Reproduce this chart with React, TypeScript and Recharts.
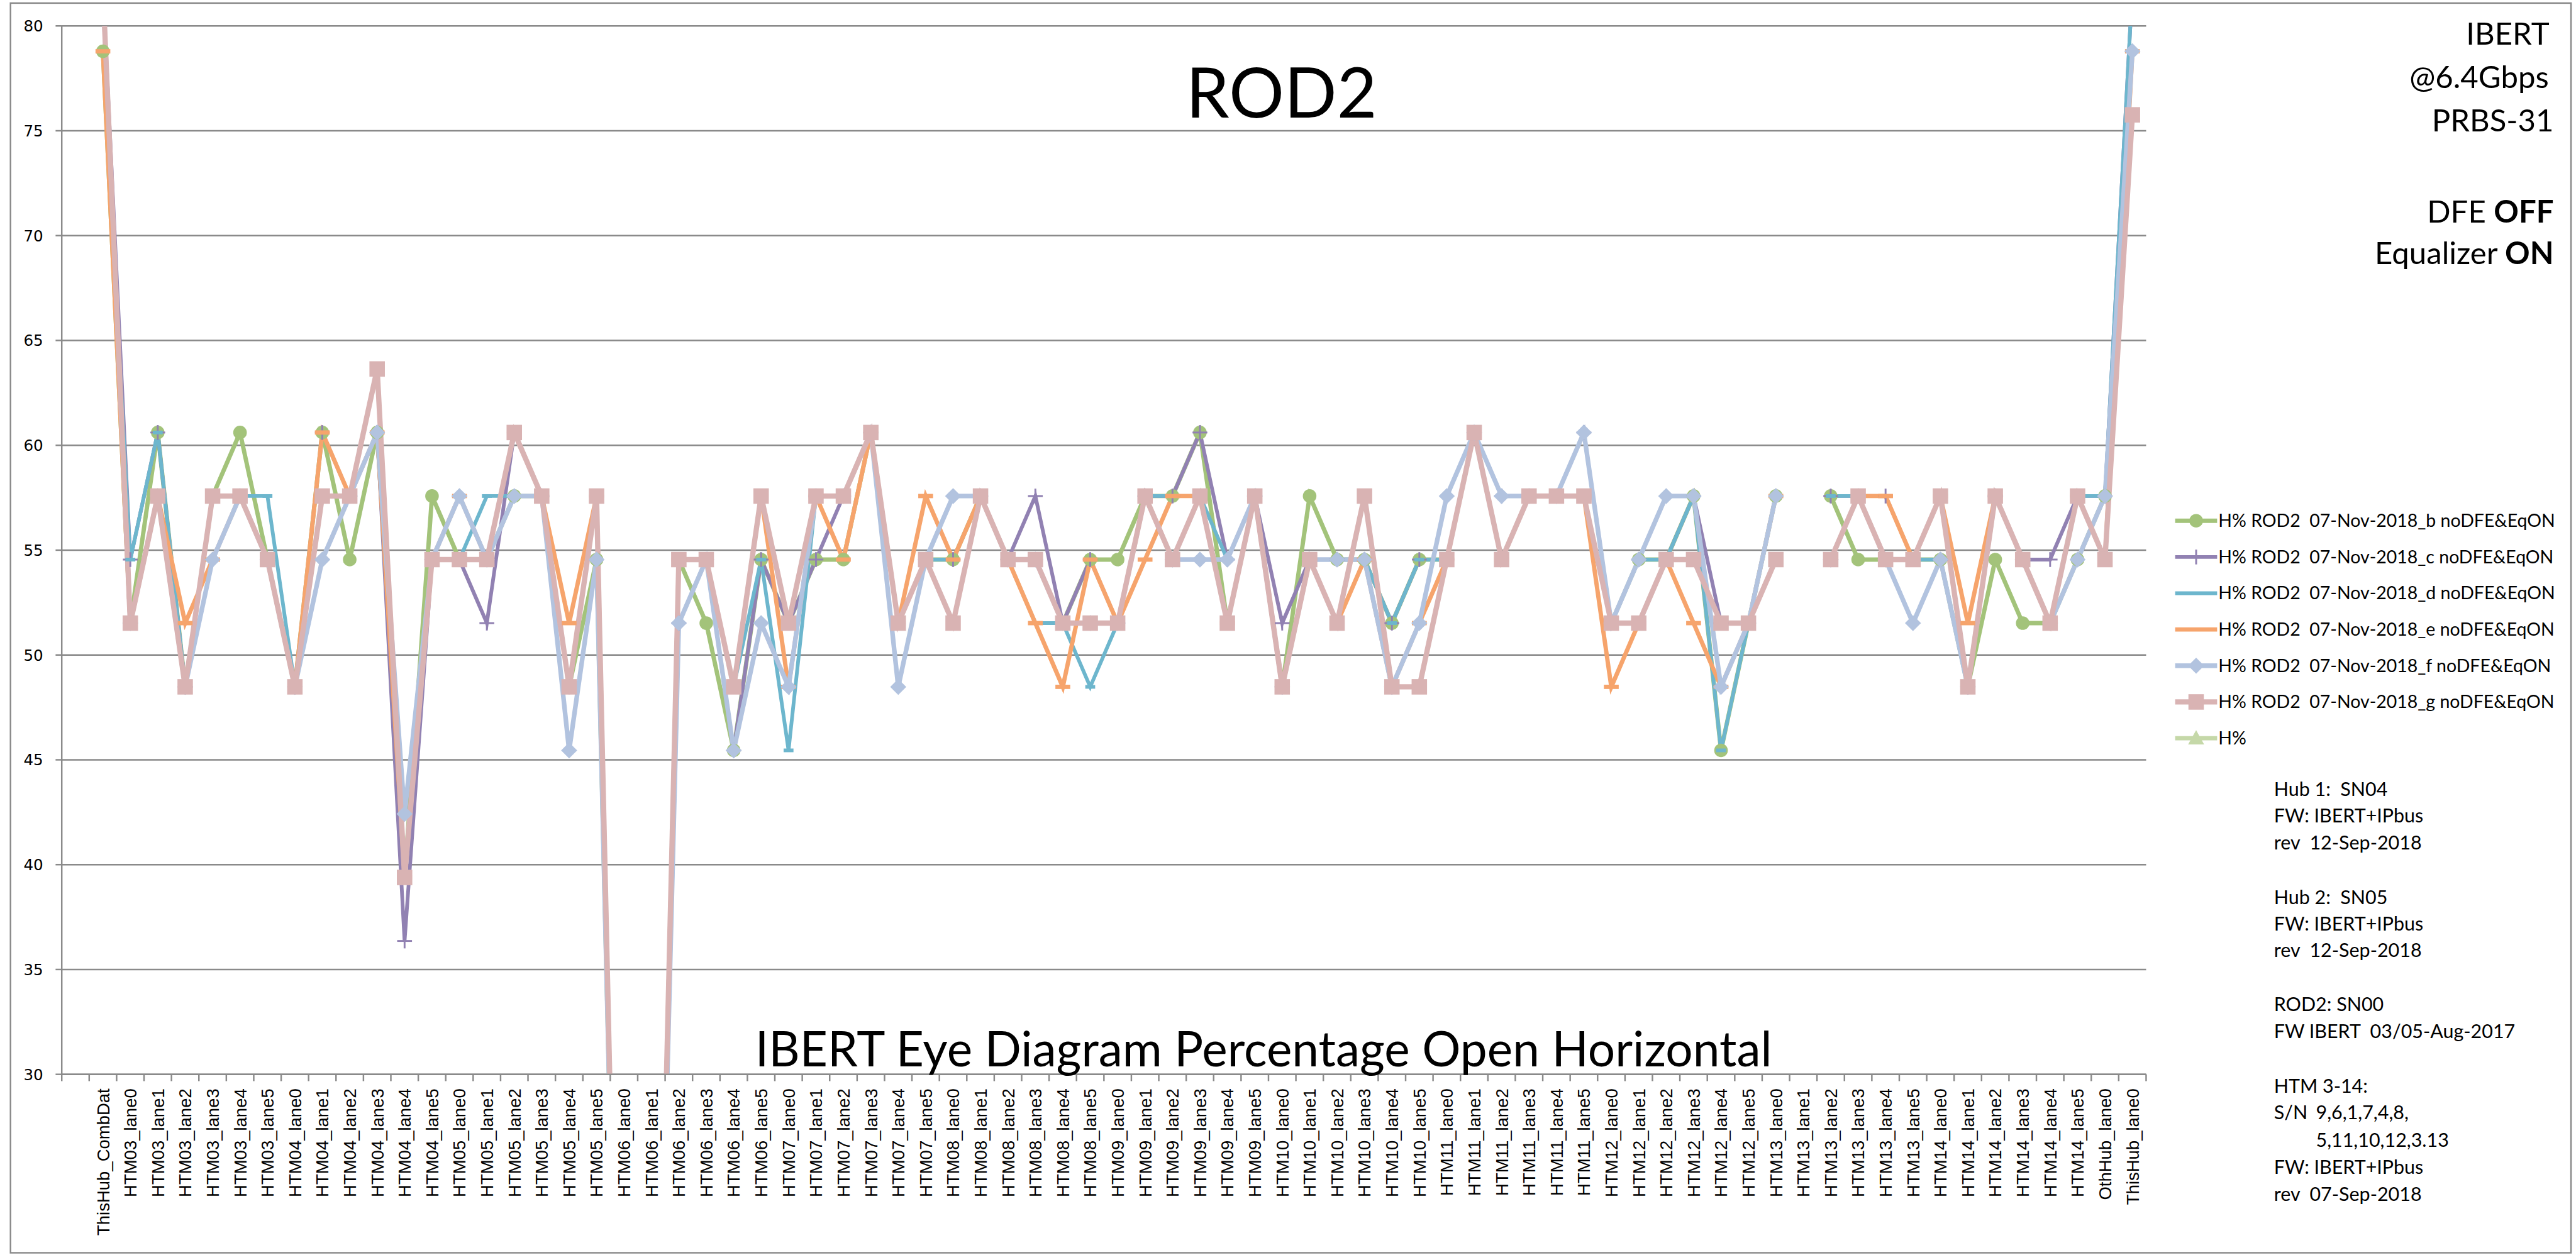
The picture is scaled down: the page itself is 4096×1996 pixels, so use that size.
import React from 'react';
import { LineChart, Line, XAxis, YAxis, CartesianGrid, Legend } from 'recharts';

const S = 0.982;
const W = 4096;
const H = 1996;

// plot area in reference pixels
const PL = 100, PR = 3475, PT = 42, PB = 1740;
const NSLOT = 76;
const GRID = '#8a8a8a';

const categories = [
  '', 'ThisHub_CombDat',
  'HTM03_lane0', 'HTM03_lane1', 'HTM03_lane2', 'HTM03_lane3', 'HTM03_lane4', 'HTM03_lane5',
  'HTM04_lane0', 'HTM04_lane1', 'HTM04_lane2', 'HTM04_lane3', 'HTM04_lane4', 'HTM04_lane5',
  'HTM05_lane0', 'HTM05_lane1', 'HTM05_lane2', 'HTM05_lane3', 'HTM05_lane4', 'HTM05_lane5',
  'HTM06_lane0', 'HTM06_lane1', 'HTM06_lane2', 'HTM06_lane3', 'HTM06_lane4', 'HTM06_lane5',
  'HTM07_lane0', 'HTM07_lane1', 'HTM07_lane2', 'HTM07_lane3', 'HTM07_lane4', 'HTM07_lane5',
  'HTM08_lane0', 'HTM08_lane1', 'HTM08_lane2', 'HTM08_lane3', 'HTM08_lane4', 'HTM08_lane5',
  'HTM09_lane0', 'HTM09_lane1', 'HTM09_lane2', 'HTM09_lane3', 'HTM09_lane4', 'HTM09_lane5',
  'HTM10_lane0', 'HTM10_lane1', 'HTM10_lane2', 'HTM10_lane3', 'HTM10_lane4', 'HTM10_lane5',
  'HTM11_lane0', 'HTM11_lane1', 'HTM11_lane2', 'HTM11_lane3', 'HTM11_lane4', 'HTM11_lane5',
  'HTM12_lane0', 'HTM12_lane1', 'HTM12_lane2', 'HTM12_lane3', 'HTM12_lane4', 'HTM12_lane5',
  'HTM13_lane0', 'HTM13_lane1', 'HTM13_lane2', 'HTM13_lane3', 'HTM13_lane4', 'HTM13_lane5',
  'HTM14_lane0', 'HTM14_lane1', 'HTM14_lane2', 'HTM14_lane3', 'HTM14_lane4', 'HTM14_lane5',
  'OthHub_lane0', 'ThisHub_lane0',
];

const yTicks = [30, 35, 40, 45, 50, 55, 60, 65, 70, 75, 80];

const seriesB = [null, 78.79,
  51.52, 60.61, 48.48, 57.58, 60.61, 54.55,
  48.48, 60.61, 54.55, 60.61, 39.39, 57.58,
  54.55, 54.55, 57.58, 57.58, 48.48, 54.55,
  0, 0, 54.55, 51.52, 45.45, 54.55,
  51.52, 54.55, 54.55, 60.61, 51.52, 54.55,
  54.55, 57.58, 54.55, 54.55, 51.52, 54.55,
  54.55, 57.58, 57.58, 60.61, 51.52, 57.58,
  48.48, 57.58, 54.55, 54.55, 51.52, 54.55,
  54.55, 60.61, 54.55, 57.58, 57.58, 57.58,
  51.52, 54.55, 54.55, 57.58, 45.45, 51.52,
  57.58, null, 57.58, 54.55, 54.55, 54.55,
  54.55, 48.48, 54.55, 51.52, 51.52, 54.55,
  57.58, 75.76];

const seriesC = [null, 81.82,
  54.55, 60.61, 48.48, 57.58, 57.58, 54.55,
  48.48, 60.61, 57.58, 60.61, 36.36, 54.55,
  54.55, 51.52, 60.61, 57.58, 48.48, 57.58,
  0, 0, 51.52, 54.55, 45.45, 54.55,
  51.52, 54.55, 57.58, 60.61, 51.52, 54.55,
  54.55, 57.58, 54.55, 57.58, 51.52, 54.55,
  51.52, 57.58, 57.58, 60.61, 54.55, 57.58,
  51.52, 54.55, 54.55, 54.55, 51.52, 54.55,
  54.55, 60.61, 57.58, 57.58, 57.58, 60.61,
  51.52, 54.55, 54.55, 57.58, 51.52, 51.52,
  57.58, null, 57.58, 57.58, 57.58, 54.55,
  54.55, 48.48, 57.58, 54.55, 54.55, 57.58,
  57.58, 81.82];

const seriesD = [null, 78.79,
  54.55, 60.61, 48.48, 57.58, 57.58, 57.58,
  48.48, 57.58, 57.58, 60.61, 42.42, 54.55,
  54.55, 57.58, 57.58, 57.58, 48.48, 57.58,
  0, 0, 54.55, 54.55, 48.48, 54.55,
  45.45, 57.58, 57.58, 60.61, 51.52, 54.55,
  54.55, 57.58, 54.55, 51.52, 51.52, 48.48,
  51.52, 57.58, 57.58, 57.58, 54.55, 57.58,
  48.48, 54.55, 54.55, 54.55, 51.52, 54.55,
  54.55, 60.61, 57.58, 57.58, 57.58, 57.58,
  51.52, 54.55, 54.55, 57.58, 45.45, 51.52,
  57.58, null, 57.58, 57.58, 54.55, 54.55,
  54.55, 48.48, 57.58, 54.55, 51.52, 57.58,
  57.58, 81.82];

const seriesE = [null, 78.79,
  51.52, 57.58, 51.52, 54.55, 57.58, 54.55,
  48.48, 60.61, 57.58, 60.61, 39.39, 54.55,
  57.58, 54.55, 60.61, 57.58, 51.52, 57.58,
  0, 0, 54.55, 54.55, 48.48, 57.58,
  48.48, 57.58, 54.55, 60.61, 51.52, 57.58,
  54.55, 57.58, 54.55, 51.52, 48.48, 54.55,
  51.52, 54.55, 57.58, 57.58, 51.52, 57.58,
  48.48, 54.55, 51.52, 54.55, 48.48, 51.52,
  54.55, 60.61, 54.55, 57.58, 57.58, 57.58,
  48.48, 51.52, 54.55, 51.52, 48.48, 51.52,
  57.58, null, 54.55, 57.58, 57.58, 54.55,
  57.58, 51.52, 57.58, 54.55, 51.52, 57.58,
  54.55, 78.79];

const seriesF = [null, 81.82,
  51.52, 57.58, 48.48, 54.55, 57.58, 54.55,
  48.48, 54.55, 57.58, 60.61, 42.42, 54.55,
  57.58, 54.55, 57.58, 57.58, 45.45, 54.55,
  0, 0, 51.52, 54.55, 45.45, 51.52,
  48.48, 57.58, 57.58, 60.61, 48.48, 54.55,
  57.58, 57.58, 54.55, 54.55, 51.52, 51.52,
  51.52, 57.58, 54.55, 54.55, 54.55, 57.58,
  48.48, 54.55, 54.55, 54.55, 48.48, 51.52,
  57.58, 60.61, 57.58, 57.58, 57.58, 60.61,
  51.52, 54.55, 57.58, 57.58, 48.48, 51.52,
  57.58, null, 54.55, 57.58, 54.55, 51.52,
  54.55, 48.48, 57.58, 54.55, 51.52, 54.55,
  57.58, 78.79];

const seriesG = [null, 81.82,
  51.52, 57.58, 48.48, 57.58, 57.58, 54.55,
  48.48, 57.58, 57.58, 63.64, 39.39, 54.55,
  54.55, 54.55, 60.61, 57.58, 48.48, 57.58,
  0, 0, 54.55, 54.55, 48.48, 57.58,
  51.52, 57.58, 57.58, 60.61, 51.52, 54.55,
  51.52, 57.58, 54.55, 54.55, 51.52, 51.52,
  51.52, 57.58, 54.55, 57.58, 51.52, 57.58,
  48.48, 54.55, 51.52, 57.58, 48.48, 48.48,
  54.55, 60.61, 54.55, 57.58, 57.58, 57.58,
  51.52, 51.52, 54.55, 54.55, 51.52, 51.52,
  54.55, null, 54.55, 57.58, 54.55, 54.55,
  57.58, 48.48, 57.58, 54.55, 51.52, 57.58,
  54.55, 75.76];

const seriesNames = [
  'H% ROD2  07-Nov-2018_b noDFE&EqON',
  'H% ROD2  07-Nov-2018_c noDFE&EqON',
  'H% ROD2  07-Nov-2018_d noDFE&EqON',
  'H% ROD2  07-Nov-2018_e noDFE&EqON',
  'H% ROD2  07-Nov-2018_f noDFE&EqON',
  'H% ROD2  07-Nov-2018_g noDFE&EqON',
  'H%',
];

type Marker = 'circle' | 'plus' | 'dash' | 'shortdash' | 'diamond' | 'square' | 'triangle';

const seriesCfg: { key: string; color: string; width: number; marker: Marker }[] = [
  { key: 'b', color: '#A3C37A', width: 7, marker: 'circle' },
  { key: 'c', color: '#9181B2', width: 6, marker: 'plus' },
  { key: 'd', color: '#6DB6CD', width: 6, marker: 'shortdash' },
  { key: 'e', color: '#F6A46C', width: 7, marker: 'dash' },
  { key: 'f', color: '#B2C3DF', width: 7.5, marker: 'diamond' },
  { key: 'g', color: '#D9B3B3', width: 8.5, marker: 'square' },
  { key: 'h', color: '#C5D8A8', width: 7, marker: 'triangle' },
];

const data = categories.map((name, i) => ({
  x: i + 0.5,
  name,
  b: seriesB[i],
  c: seriesC[i],
  d: seriesD[i],
  e: seriesE[i],
  f: seriesF[i],
  g: seriesG[i],
  h: null as number | null,
}));

const xTicks = categories.map((_, i) => i + 0.5);

function drawMarker(kind: Marker, cx: number, cy: number, color: string, k?: string) {
  const s = S;
  switch (kind) {
    case 'circle':
      return <circle key={k} cx={cx} cy={cy} r={11 * s} fill={color} />;
    case 'plus':
      return (
        <g key={k}>
          <line x1={cx - 12 * s} x2={cx + 12 * s} y1={cy} y2={cy} stroke={color} strokeWidth={3 * s} />
          <line x1={cx} x2={cx} y1={cy - 12 * s} y2={cy + 12 * s} stroke={color} strokeWidth={3 * s} />
        </g>
      );
    case 'dash':
      return <rect key={k} x={cx - 12 * s} y={cy - 3.5 * s} width={24 * s} height={7 * s} fill={color} />;
    case 'shortdash':
      return <rect key={k} x={cx - 8 * s} y={cy - 3 * s} width={16 * s} height={6 * s} fill={color} />;
    case 'diamond':
      return (
        <polygon key={k}
          points={`${cx},${cy - 13 * s} ${cx + 13 * s},${cy} ${cx},${cy + 13 * s} ${cx - 13 * s},${cy}`}
          fill={color} />
      );
    case 'square':
      return <rect key={k} x={cx - 12.5 * s} y={cy - 12.5 * s} width={25 * s} height={25 * s} fill={color} />;
    case 'triangle':
      return (
        <polygon key={k}
          points={`${cx},${cy - 13 * s} ${cx + 13 * s},${cy + 10 * s} ${cx - 13 * s},${cy + 10 * s}`}
          fill={color} />
      );
  }
  return null;
}

const makeDot = (kind: Marker, color: string) => (props: any) => {
  const { cx, cy, index, value } = props;
  const k = `dot-${kind}-${index}`;
  if (cx == null || cy == null || value == null || Number.isNaN(cy)) return <g key={k} />;
  return drawMarker(kind, cx, cy, color, k);
};

const slotW = ((PR - PL) * S) / NSLOT;

const XTick = (props: any) => {
  const { x, payload } = props;
  const i = Math.round(payload.value - 0.5);
  const label = categories[i] ?? '';
  const y0 = PB * S;
  const ty = 1763 * S;
  return (
    <g>
      <line x1={x - slotW / 2} x2={x - slotW / 2} y1={y0} y2={y0 + 11 * S} stroke={GRID} strokeWidth={2.5 * S} />
      {i === categories.length - 1 && (
        <line x1={x + slotW / 2} x2={x + slotW / 2} y1={y0} y2={y0 + 11 * S} stroke={GRID} strokeWidth={2.5 * S} />
      )}
      <text
        x={x}
        y={ty}
        transform={`rotate(-90, ${x}, ${ty})`}
        textAnchor="end"
        dy="0.36em"
        fontFamily="'Liberation Sans', Arial, sans-serif"
        fontSize={28 * S}
        fill="#000"
      >
        {label}
      </text>
    </g>
  );
};

const YTick = (props: any) => {
  const { y, payload } = props;
  return (
    <text x={70 * S} y={y} dy="0.36em" textAnchor="end" fontFamily="'DejaVu Sans', sans-serif" fontSize={25 * S} fill="#000">
      {payload.value}
    </text>
  );
};

const LEG_LEFT = 3500, LEG_TOP = 800;
const renderLegend = (props: any) => {
  const raw = props.payload || [];
  const order = (e: any) => {
    const idx = seriesCfg.findIndex((c) => c.key === e.dataKey);
    return idx < 0 ? 99 : idx;
  };
  const payload = [...raw].sort((a: any, b: any) => order(a) - order(b));
  return (
    <svg width={660 * S} height={440 * S} style={{ overflow: 'visible' }}>
      {payload.map((entry: any, i: number) => {
        const cfg = seriesCfg.find((c) => c.key === entry.dataKey) || seriesCfg[i];
        const cy = (843 - LEG_TOP + i * 58.7) * S;
        const x1 = (3522 - LEG_LEFT) * S, x2 = (3590 - LEG_LEFT) * S;
        const mx = (x1 + x2) / 2;
        return (
          <g key={`leg-${i}`}>
            <line x1={x1} x2={x2} y1={cy} y2={cy} stroke={cfg.color} strokeWidth={cfg.width * S} />
            {cfg.marker !== 'dash' && cfg.marker !== 'shortdash' && drawMarker(cfg.marker, mx, cy, cfg.color)}
            <text x={(3592 - LEG_LEFT) * S} y={cy} dy="0.35em" fontFamily="Lato, sans-serif" fontSize={29 * S}
              fill="#000" style={{ whiteSpace: 'pre' }}>
              {entry.value}
            </text>
          </g>
        );
      })}
    </svg>
  );
};

const hubLines: { t: string; x: number; y: number }[] = [
  { t: 'Hub 1:  SN04', x: 3682, y: 1289 },
  { t: 'FW: IBERT+IPbus', x: 3682, y: 1332 },
  { t: 'rev  12-Sep-2018', x: 3682, y: 1376 },
  { t: 'Hub 2:  SN05', x: 3682, y: 1464 },
  { t: 'FW: IBERT+IPbus', x: 3682, y: 1507 },
  { t: 'rev  12-Sep-2018', x: 3682, y: 1550 },
  { t: 'ROD2: SN00', x: 3682, y: 1637 },
  { t: 'FW IBERT  03/05-Aug-2017', x: 3682, y: 1681 },
  { t: 'HTM 3-14:', x: 3682, y: 1770 },
  { t: 'S/N', x: 3682, y: 1813 },
  { t: '9,6,1,7,4,8,', x: 3750, y: 1813 },
  { t: '5,11,10,12,3.13', x: 3750, y: 1857 },
  { t: 'FW: IBERT+IPbus', x: 3682, y: 1901 },
  { t: 'rev  07-Sep-2018', x: 3682, y: 1945 },
];

export default function App() {
  return (
    <div style={{ position: 'absolute', left: 0, top: 0, width: W, height: H, background: '#fff', overflow: 'hidden' }}>
      <LineChart
        width={W}
        height={H}
        data={data}
        margin={{ top: PT * S, right: W - PR * S, left: 0, bottom: 0 }}
      >
        <CartesianGrid horizontal vertical={false} stroke={GRID} strokeWidth={2.5 * S} />
        <XAxis
          dataKey="x"
          type="number"
          domain={[0, NSLOT]}
          ticks={xTicks}
          interval={0}
          tick={<XTick />}
          tickLine={false}
          axisLine={{ stroke: GRID, strokeWidth: 2.5 * S }}
          height={H - PB * S}
          allowDataOverflow
        />
        <YAxis
          type="number"
          domain={[30, 80]}
          ticks={yTicks}
          interval={0}
          allowDataOverflow
          width={PL * S}
          tick={<YTick />}
          tickSize={10 * S}
          tickLine={{ stroke: GRID, strokeWidth: 2.5 * S }}
          axisLine={{ stroke: GRID, strokeWidth: 2.5 * S }}
        />
        <Legend
          layout="vertical"
          align="center"
          verticalAlign="middle"
          content={renderLegend}
          wrapperStyle={{ position: 'absolute', left: LEG_LEFT * S, top: LEG_TOP * S, width: 660 * S, height: 440 * S }}
        />
        {seriesCfg.map((cfg, i) => (
          <Line
            key={cfg.key}
            type="linear"
            dataKey={cfg.key}
            name={seriesNames[i]}
            stroke={cfg.color}
            strokeWidth={cfg.width * S}
            dot={makeDot(cfg.marker, cfg.color)}
            activeDot={false}
            isAnimationActive={false}
            connectNulls={false}
          />
        ))}
      </LineChart>
      <svg
        width={W}
        height={H}
        style={{ position: 'absolute', left: 0, top: 0, pointerEvents: 'none' }}
      >
        <rect x={17 * S} y={5 * S} width={(4163 - 17) * S} height={(2029 - 5) * S} fill="none" stroke={GRID} strokeWidth={2.5 * S} />
        <text x={2075 * S} y={190 * S} textAnchor="middle" fontFamily="Lato, sans-serif" fontSize={112 * S} fill="#000">ROD2</text>
        <text x={2046 * S} y={1727 * S} textAnchor="middle" fontFamily="Lato, sans-serif" fontSize={78 * S} fill="#000"
          style={{ whiteSpace: 'pre' }}>IBERT Eye Diagram Percentage Open Horizontal</text>
        <g fontFamily="Lato, sans-serif" fontSize={50 * S} fill="#000" textAnchor="end">
          <text x={4128 * S} y={72 * S}>IBERT</text>
          <text x={4127 * S} y={143 * S}>@6.4Gbps</text>
          <text x={4135 * S} y={213 * S}>PRBS-31</text>
          <text x={4135 * S} y={360 * S}>DFE <tspan fontWeight="bold">OFF</tspan></text>
          <text x={4135 * S} y={428 * S}>Equalizer <tspan fontWeight="bold">ON</tspan></text>
        </g>
        <g fontFamily="Lato, sans-serif" fontSize={31 * S} fill="#000">
          {hubLines.map((l, i) => (
            <text key={i} x={l.x * S} y={l.y * S} style={{ whiteSpace: 'pre' }}>{l.t}</text>
          ))}
        </g>
      </svg>
    </div>
  );
}
